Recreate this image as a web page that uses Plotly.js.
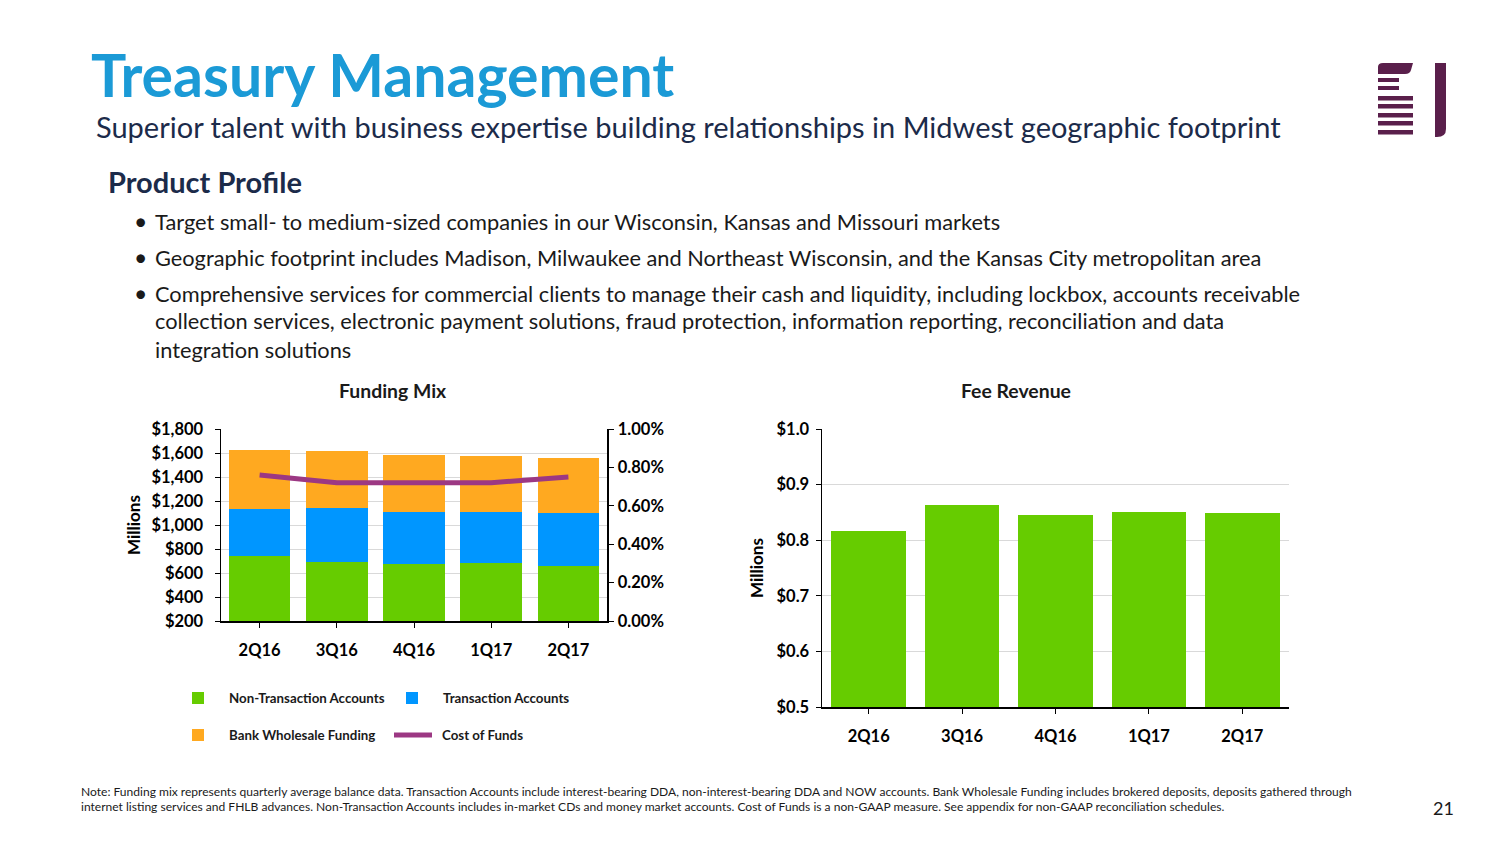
<!DOCTYPE html>
<html>
<head>
<meta charset="utf-8">
<script src="https://cdn.plot.ly/plotly-3.0.1.min.js"></script>
<style>
html,body{margin:0;padding:0;background:#fff;}
#chart{width:1504px;height:846px;}
</style>
</head>
<body>
<div id="chart"></div>
<script>
// ---------- DATA ----------
const quarters = ['2Q16', '3Q16', '4Q16', '1Q17', '2Q17'];
const nonTransactionAccounts = [738, 694, 677, 685, 660];
const transactionAccounts = [399, 449, 433, 422, 444];
const bankWholesaleFunding = [486, 474, 471, 466, 452];
const costOfFunds = [0.0076, 0.0072, 0.0072, 0.0072, 0.0075];
const feeRevenue = [0.817, 0.864, 0.846, 0.851, 0.849];

const seriesNames = ['Non-Transaction Accounts', 'Transaction Accounts', 'Bank Wholesale Funding', 'Cost of Funds'];

const pageTitle = 'Treasury Management';
const pageSubtitle = 'Superior talent with business expertise building relationships in Midwest geographic footprint';
const sectionHeading = 'Product Profile';
const bulletLines = [
  {text: 'Target small- to medium-sized companies in our Wisconsin, Kansas and Missouri markets', bullet: true},
  {text: 'Geographic footprint includes Madison, Milwaukee and Northeast Wisconsin, and the Kansas City metropolitan area', bullet: true},
  {text: 'Comprehensive services for commercial clients to manage their cash and liquidity, including lockbox, accounts receivable', bullet: true},
  {text: 'collection services, electronic payment solutions, fraud protection, information reporting, reconciliation and data', bullet: false},
  {text: 'integration solutions', bullet: false}
];
const footnoteLines = [
  'Note: Funding mix represents quarterly average balance data. Transaction Accounts include interest-bearing DDA, non-interest-bearing DDA and NOW accounts. Bank Wholesale Funding includes brokered deposits, deposits gathered through',
  'internet listing services and FHLB advances. Non-Transaction Accounts includes in-market CDs and money market accounts. Cost of Funds is a non-GAAP measure. See appendix for non-GAAP reconciliation schedules.'
];
const pageNumber = '21';

// ---------- STYLE ----------
const W = 1504, H = 846;
const px = x => x / W;
const py = y => 1 - y / H;
const FONT = 'Lato, "Open Sans", sans-serif';
const C_GREEN = '#66cc00', C_BLUE = '#0096ff', C_ORANGE = '#ffa920', C_PURPLE = '#9c3883';
const C_TITLE = '#1b9ad6', C_NAVY = '#1c2b4a', C_TEXT = '#1a1a1a', C_LOGO = '#5a1f4b';
const GRID = '#d9d9d9';

const traces = [
  {type: 'bar', name: seriesNames[0], x: quarters, y: nonTransactionAccounts, marker: {color: C_GREEN}, xaxis: 'x', yaxis: 'y'},
  {type: 'bar', name: seriesNames[1], x: quarters, y: transactionAccounts, marker: {color: C_BLUE}, xaxis: 'x', yaxis: 'y'},
  {type: 'bar', name: seriesNames[2], x: quarters, y: bankWholesaleFunding, marker: {color: C_ORANGE}, xaxis: 'x', yaxis: 'y'},
  {type: 'scatter', mode: 'lines', name: seriesNames[3], x: quarters, y: costOfFunds, line: {color: C_PURPLE, width: 5}, xaxis: 'x', yaxis: 'y2'},
  {type: 'bar', name: 'Fee Revenue', x: quarters, y: feeRevenue, marker: {color: C_GREEN}, xaxis: 'x2', yaxis: 'y3'}
];

const tickFont = {family: FONT, size: 16.5, color: '#000', weight: 'bold'};

const annotations = [];
function txt(text, x, y, opts) {
  annotations.push(Object.assign({
    text: text, xref: 'paper', yref: 'paper', x: px(x), y: py(y),
    xanchor: 'left', yanchor: 'middle', showarrow: false,
    font: {family: FONT, size: 14, color: C_TEXT}
  }, opts || {}));
}

txt(pageTitle, 89, 75, {font: {family: FONT, size: 59, color: C_TITLE, weight: 'bold'}});
txt(pageSubtitle, 94, 127, {font: {family: FONT, size: 29, color: C_NAVY}});
txt(sectionHeading, 106, 182, {font: {family: FONT, size: 29, color: C_NAVY, weight: 'bold'}});
const bulletY = [221, 257, 293, 321, 349];
bulletLines.forEach((b, i) => {
  if (b.bullet) txt('•', 132, bulletY[i], {font: {family: FONT, size: 23, color: C_TEXT}});
  txt(b.text, 153, bulletY[i], {font: {family: FONT, size: 21.8, color: C_TEXT}});
});
txt('Funding Mix', 393, 391, {xanchor: 'center', font: {family: FONT, size: 19.4, color: C_TEXT, weight: 'bold'}});
txt('Fee Revenue', 1016, 391, {xanchor: 'center', font: {family: FONT, size: 19.4, color: C_TEXT, weight: 'bold'}});
footnoteLines.forEach((t, i) => {
  txt(t, 79, 791 + i * 15, {font: {family: FONT, size: 12.05, color: C_TEXT}});
});
txt(pageNumber, 1443, 808, {xanchor: 'center', font: {family: FONT, size: 18, color: C_TEXT}});

// Legend (manual)
const legendPos = [[198, 698], [412, 698], [198, 735], [412, 735]];
const legendColors = [C_GREEN, C_BLUE, C_ORANGE, C_PURPLE];
const shapes = [];
seriesNames.forEach((n, i) => {
  const [lx, ly] = legendPos[i];
  if (i < 3) {
    shapes.push({type: 'rect', xref: 'paper', yref: 'paper', x0: px(lx - 6), x1: px(lx + 6), y0: py(ly + 6), y1: py(ly - 6), fillcolor: legendColors[i], line: {width: 0}});
    txt(n, lx + 29, ly, {font: {family: FONT, size: 13.3, color: C_TEXT, weight: 'bold'}});
  } else {
    shapes.push({type: 'line', xref: 'paper', yref: 'paper', x0: px(lx - 18), x1: px(lx + 20), y0: py(ly), y1: py(ly), line: {color: legendColors[i], width: 5}});
    txt(n, lx + 28, ly, {font: {family: FONT, size: 13.3, color: C_TEXT, weight: 'bold'}});
  }
});

// Logo
function rectPx(x0, y0, x1, y1) {
  shapes.push({type: 'rect', xref: 'paper', yref: 'paper', x0: px(x0), x1: px(x1), y0: py(y1), y1: py(y0), fillcolor: C_LOGO, line: {width: 0}});
}
shapes.push({type: 'path', xref: 'paper', yref: 'paper', fillcolor: C_LOGO, line: {width: 0},
  path: `M ${px(1378)} ${py(74)} L ${px(1378)} ${py(67)} Q ${px(1378)} ${py(63)} ${px(1383)} ${py(63)} L ${px(1413)} ${py(63)} L ${px(1411)} ${py(70)} Q ${px(1410)} ${py(74)} ${px(1405)} ${py(74)} Z`});
rectPx(1378, 78, 1399, 82);
rectPx(1378, 86, 1399, 90);
[96, 104, 113, 121, 130].forEach(y => rectPx(1378, y, 1413, y + 4.5));
shapes.push({type: 'path', xref: 'paper', yref: 'paper', fillcolor: C_LOGO, line: {width: 0},
  path: `M ${px(1435)} ${py(63)} L ${px(1446)} ${py(63)} L ${px(1446)} ${py(129)} Q ${px(1446)} ${py(137)} ${px(1437)} ${py(137)} L ${px(1435)} ${py(137)} Z`});

const titleFont = {family: FONT, size: 17, color: '#000', weight: 'bold'};

const layout = {
  width: W, height: H,
  margin: {l: 0, r: 0, t: 0, b: 0},
  paper_bgcolor: '#fff', plot_bgcolor: '#fff',
  showlegend: false,
  barmode: 'stack',
  bargap: 0.2,
  font: {family: FONT},
  xaxis: {
    domain: [px(221), px(607)], anchor: 'y',
    showline: true, linecolor: '#000', linewidth: 1.5,
    ticks: 'outside', ticklen: 5, tickcolor: '#000',
    tickfont: tickFont, ticklabelstandoff: 9, showgrid: false, fixedrange: true
  },
  yaxis: {
    domain: [py(621), py(429)], anchor: 'x',
    range: [200, 1800], dtick: 200, tick0: 200,
    tickprefix: '$', tickformat: ',d',
    showline: true, linecolor: '#000', linewidth: 1.5,
    ticks: 'outside', ticklen: 5, tickcolor: '#000',
    tickfont: tickFont, ticklabelstandoff: 8,
    showgrid: true, gridcolor: GRID, zeroline: false,
    title: {text: 'Millions', font: titleFont, standoff: 6}
  },
  yaxis2: {
    overlaying: 'y', side: 'right', anchor: 'x',
    range: [0, 0.01], dtick: 0.002, tickformat: '.2%',
    showline: true, linecolor: '#000', linewidth: 1.5,
    ticks: 'outside', ticklen: 5, tickcolor: '#000',
    tickfont: tickFont, ticklabelstandoff: 1,
    showgrid: false, zeroline: false
  },
  xaxis2: {
    domain: [px(822), px(1289)], anchor: 'y3',
    showline: true, linecolor: '#000', linewidth: 1.5,
    ticks: 'outside', ticklen: 5, tickcolor: '#000',
    tickfont: tickFont, ticklabelstandoff: 9, showgrid: false
  },
  yaxis3: {
    domain: [py(707), py(429)], anchor: 'x2',
    range: [0.5, 1.0], dtick: 0.1, tick0: 0.5,
    tickprefix: '$', tickformat: '.1f',
    showline: true, linecolor: '#000', linewidth: 1.5,
    ticks: 'outside', ticklen: 5, tickcolor: '#000',
    tickfont: tickFont, ticklabelstandoff: 3,
    showgrid: true, gridcolor: GRID, zeroline: false,
    title: {text: 'Millions', font: titleFont, standoff: 8}
  },
  annotations: annotations,
  shapes: shapes
};

Plotly.newPlot('chart', traces, layout, {displayModeBar: false, staticPlot: true});
</script>
</body>
</html>
